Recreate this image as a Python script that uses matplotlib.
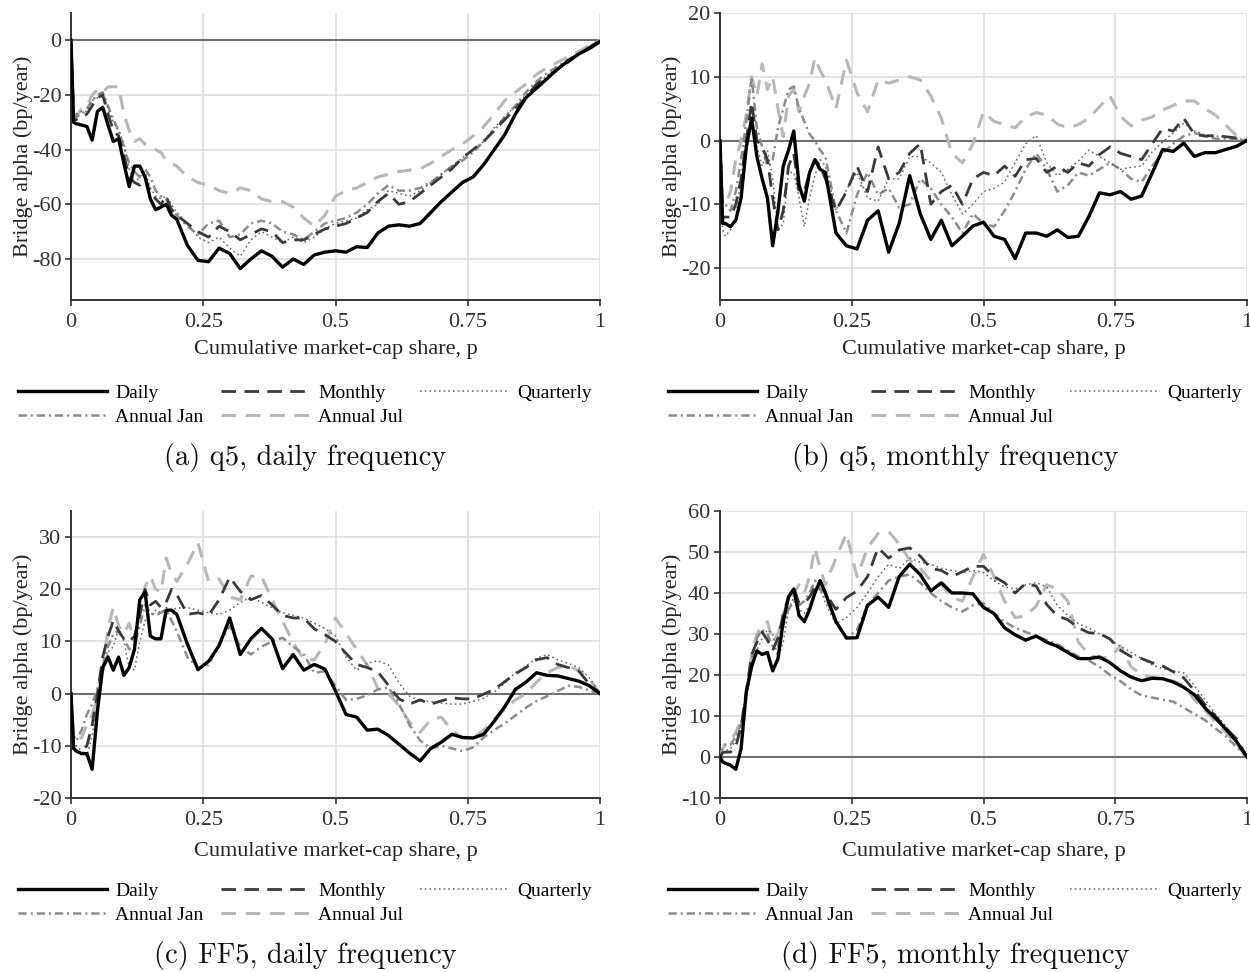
import matplotlib
matplotlib.use('Agg')
import matplotlib.pyplot as plt

plt.rcParams['font.family'] = ['Liberation Serif', 'DejaVu Serif']
plt.rcParams['axes.unicode_minus'] = False
plt.rcParams['lines.scale_dashes'] = False

# ---------------- data ----------------
P = [0, 0.005, 0.01, 0.02, 0.03, 0.04, 0.05, 0.06, 0.07, 0.08, 0.09, 0.10,
     0.11, 0.12, 0.13, 0.14, 0.15, 0.16, 0.17, 0.18, 0.19, 0.20,
     0.22, 0.24, 0.26, 0.28, 0.30, 0.32, 0.34, 0.36, 0.38, 0.40,
     0.42, 0.44, 0.46, 0.48, 0.50, 0.52, 0.54, 0.56, 0.58, 0.60,
     0.62, 0.64, 0.66, 0.68, 0.70, 0.72, 0.74, 0.76, 0.78, 0.80,
     0.82, 0.84, 0.86, 0.88, 0.90, 0.92, 0.94, 0.96, 0.98, 1.00]

SERIES = ['Daily', 'Monthly', 'Quarterly', 'Annual Jan', 'Annual Jul']

# (a) q5, daily frequency
A_DAILY = [0, -30, -30.5, -31, -31.5, -36.5, -26, -24.5, -31, -37, -36, -45, -53.5, -46, -46, -50, -58, -62, -61, -60, -64, -65.5,
           -75, -80.5, -81, -76, -78, -83.5, -80, -77, -79, -83, -80, -82, -78.5, -77.5, -77, -77.5, -75.5, -75.8, -70.5, -68,
           -67.5, -68, -67, -63, -59, -55.5, -52, -50, -45.5, -40, -34.5, -27, -21, -17.5, -14, -10.5, -7.5, -5, -3, -0.5]
A_MONTHLY = [0, -29, -29, -28, -27, -24, -21, -20, -27, -33, -35, -42, -50, -52, -53, -50, -56, -58, -60, -57, -62, -64,
             -67, -70, -72, -68, -70, -73, -71, -69, -70, -74, -73, -73, -71, -69, -68, -67, -65, -63, -59, -56,
             -60, -59, -56, -53, -50, -47, -43, -40, -37, -33, -29, -25, -21, -16, -13.5, -10.5, -8, -5, -2.5, 0]
A_QUARTERLY = [0, -28, -27, -26, -26, -22, -21, -19, -25, -30, -33, -38, -47, -52, -50, -48, -54, -57, -58, -57, -60, -63,
               -67, -72, -74, -72, -76, -79, -73, -70, -72, -74, -72, -74, -72, -69, -67, -66, -65, -62, -60, -55,
               -56, -57, -55, -52, -49, -46, -43, -40, -37, -32, -28, -24, -20, -16, -13, -10, -7.5, -5, -2.5, 0]
A_JAN = [0, -27, -28, -27, -25, -22, -20, -19, -24, -29, -33, -39, -45, -48, -50, -47, -50, -55, -57, -58, -62, -64,
         -68, -71, -67, -66, -72, -71, -67, -66, -67, -70, -71, -73, -70, -67, -66, -65, -63, -60, -56, -53,
         -55, -55, -54, -52, -49, -46, -44, -41, -37, -33, -28, -24, -19, -15, -12, -9.5, -7, -5, -2.5, 0]
A_JUL = [0, -27, -28, -25, -24, -20, -18, -19, -17, -17, -17, -27, -33, -37, -36, -38, -39, -40, -41, -44, -45, -46,
         -50, -52, -53, -55, -56, -54, -55, -58, -59, -59, -61, -65, -68, -64, -57, -55, -54, -52, -50, -49,
         -48, -47.5, -47, -45, -42.5, -40, -38, -35, -31.6, -27, -22, -19, -16, -12.5, -10, -8, -6, -4, -2, 0]

# (b) q5, monthly frequency
B_DAILY = [0, -13, -13, -13.5, -12.5, -9, -1, 3.5, -2.5, -6, -9, -16.5, -11, -4, -1.5, 1.5, -7, -9.5, -5, -3, -4.5, -5,
           -14.5, -16.5, -17, -12.5, -11, -17.5, -13, -5.5, -11.5, -15.5, -12.5, -16.5, -15, -13.4, -12.8, -15, -15.5, -18.5, -14.5, -14.5,
           -15, -14, -15.2, -15, -11.9, -8.2, -8.5, -8, -9.2, -8.7, -5.1, -1.4, -1.7, -0.4, -2.5, -1.9, -1.9, -1.4, -0.9, 0]
B_MONTHLY = [0, -12, -12, -12, -10, -6, 0, 6, 0, -1, -3, -9, -14, -11, -4, -2, -8, -8, -5, -3, -4, -6,
             -11, -8, -4, -8, -1, -6, -5, -2, -0.5, -10, -8, -7, -10, -6, -5, -5.5, -4, -5.6, -3, -2.8,
             -5, -4, -5, -3.5, -4, -2.2, -1, -2, -2.5, -3, -0.5, 1.9, 1.5, 3.5, 1, 0.7, 0.8, 0.6, 0.4, 0]
B_QUARTERLY = [0, -14, -15, -14, -12, -6, 1, 3, -1, -4, -1.5, -6, -14, -13, -5, -5, -9, -13.5, -9, -5.5, -3, -4,
               -11, -7.7, -5, -9, -9.5, -6, -6, -2.5, -2.5, -3.5, -5, -8.5, -11.5, -10, -8, -7.5, -6.5, -3.5, -0.5, 0.8,
               -3.5, -5.5, -4.5, -3.2, -1.5, -2.5, -3.5, -4.5, -4.2, -4, -1.8, -0.2, 1.2, 2.7, 1.5, 0.9, 0.7, 0.6, 0.4, 0]
B_JAN = [0, -10, -10, -11, -8, -3, 3, 10, 2, -1, -4, -3, 2, 5, 8, 8.5, 5, 3, 1, 0, -1.5, -2.5,
         -11, -14.5, -8.5, -5, -8.5, -7.5, -10.5, -10, -6, -7.5, -10, -12, -14.5, -11.5, -13, -13.5, -11, -8, -4.5, -2,
         -4.5, -8, -7, -5, -5.5, -4.5, -3.5, -4.5, -6, -6.5, -4, -2, -0.5, 0.7, 1.2, 0.7, 0.3, 0.2, 0.2, 0]
B_JUL = [0, -10, -10, -8, -3, 0, 4, 10, 7, 12, 8, 10, 5, 0.6, 7, 8, 4.5, 7, 9, 13, 11, 9.5,
         5, 12.6, 7.5, 4.5, 9.5, 9, 9.5, 10, 9.5, 7, 3.5, -2, -3.5, -0.5, 4.5, 3, 2.5, 2, 3.7, 4.4,
         4, 2.6, 2, 2.5, 3.5, 5.3, 7, 3.8, 2.3, 3.2, 3.7, 4.8, 5.5, 6.2, 6.2, 5, 4, 2.4, 0.8, 0]

# (c) FF5, daily frequency
C_DAILY = [0, -10.5, -11, -11.5, -11.5, -14.5, -3.3, 5, 7, 4.5, 7, 3.5, 5, 8.5, 18, 19.5, 11, 10.5, 10.5, 16, 16, 15.2,
           9.5, 4.6, 6.2, 9.2, 14.5, 7.5, 10.5, 12.5, 10.5, 4.8, 7.5, 4.5, 5.6, 4.7, 0.5, -4, -4.5, -7, -6.8, -8,
           -9.7, -11.4, -12.9, -10.5, -9.3, -7.8, -8.4, -8.5, -7.8, -5.3, -2.5, 0.8, 2.2, 4, 3.5, 3.4, 2.9, 2.4, 1.5, 0]
C_MONTHLY = [0, -10.5, -11, -11, -10, -6, 0, 7, 11, 14, 12, 10.5, 10, 11, 15, 20, 17, 17.7, 16.5, 17.5, 20, 19,
             15.2, 15.5, 15, 18, 22.3, 19.6, 18, 18.8, 17, 15, 14.5, 14.5, 12.4, 11.3, 10, 7.7, 5.6, 5, 4.2, 1.6,
             -1, -2, -1.2, -2, -1.4, -0.8, -1, -1, -0.1, 0.8, 2.3, 3.8, 5, 6.5, 6.9, 5.6, 5, 4.3, 1.8, 0]
C_QUARTERLY = [0, -9, -10, -11, -12, -8, -2, 4, 8, 9, 12.5, 10, 5, 4.5, 10, 14, 15, 16, 15.5, 16.5, 16, 16.4,
               16.5, 16, 15.5, 15.2, 16, 17.5, 18.5, 17.5, 16.5, 15.5, 15, 14.5, 13.5, 12.5, 11, 7, 4.5, 5.8, 6.3, 5.5,
               2, -0.5, -1.4, -1.5, -1.8, -2, -2, -1.5, -0.9, 0.3, 2, 4, 5.3, 6.8, 7.5, 6.5, 5.8, 5, 3, 0]
C_JAN = [0, -8, -9, -7, -4, -2, 1, 5, 9, 11.5, 12, 10.5, 8.5, 9, 13, 17, 15.5, 15, 15.5, 16, 14, 12,
         7, 5, 5.5, 9.5, 13, 9, 7.5, 9, 10, 10.7, 9, 7.5, 4, 4.3, 1.5, -1.2, -1, -0.3, 0.8, 1.2,
         -2, -6, -9, -10.5, -10, -10.5, -11, -10.3, -8.4, -7, -5.7, -4.2, -2.7, -1.4, -0.5, 0.5, 1.5, 1.3, 0.6, 0]
C_JUL = [0, -8, -8.5, -8.5, -6, -4, -1, 4, 12.6, 16.5, 13, 11.5, 13.5, 10, 16, 20.5, 22.5, 20, 19.5, 26, 23, 21.5,
         24.8, 28.9, 21.5, 22, 18.5, 18, 22.5, 22.5, 18, 13.9, 9.8, 6.5, 6.5, 9.5, 14.5, 11.5, 8.5, 5.5, 1, 0,
         -2.3, -5.5, -7.4, -5, -4.5, -7, -8.5, -8.5, -7, -4.8, -3, -1.2, 0, 2.2, 4, 5, 5.3, 4.4, 2.8, 0]

# (d) FF5, monthly frequency
D_DAILY = [0, -1.2, -1.5, -2, -3, 2, 16, 22, 25.9, 25, 25.5, 21, 24, 33, 39, 41, 34.5, 33, 36, 40, 43, 40,
           33, 29, 29.1, 37, 39, 36.5, 44, 47, 44.5, 40.5, 42.5, 40, 40, 39.8, 36.5, 35, 31.5, 29.8, 28.5, 29.5,
           28, 27, 25.5, 24, 24, 24.4, 23, 21, 19.5, 18.6, 19.2, 19.1, 18.3, 17, 15.2, 12, 9.5, 6.8, 3.8, 0]
D_MONTHLY = [0, 1, 1.2, 1.2, 2.5, 7.5, 16, 25, 28, 30.5, 28.5, 26, 29, 34.8, 39, 41.3, 37.5, 37.5, 39, 41.5, 43, 40,
             36, 38.9, 40.5, 44, 51, 48.5, 50.5, 51, 49, 46, 45.5, 44, 45.2, 46.5, 46.5, 44, 42.5, 40, 42.3, 41.7,
             37.2, 34.4, 33.5, 31.5, 30.3, 30.1, 28.8, 26, 24.5, 24, 23, 22.2, 20.8, 19.3, 16.2, 12.8, 10, 7, 4.5, 0]
D_QUARTERLY = [0, 1, 1.5, 2, 4, 8, 14, 22, 26, 29, 31, 30, 24, 28, 36, 39, 36, 35, 37, 40, 41, 37.5,
               32.5, 34, 36.5, 40, 44, 47, 46, 48.5, 47.5, 47, 46, 45.5, 45, 45.5, 45, 43, 41.5, 41, 42, 42.5,
               41.5, 37, 34.5, 32.5, 31.5, 30, 28.5, 27, 25.5, 24, 22.5, 21.5, 21, 20.5, 17.5, 14, 10.5, 7.5, 4, 0]
D_JAN = [0, 2, 3, 3, 5, 8, 15, 24, 29, 31, 30, 27, 27, 32, 36, 38, 37, 38, 40, 43, 41, 39,
         33, 29, 31, 37, 40, 43, 44, 44.5, 42.5, 40, 38, 36.5, 35.5, 37, 37.5, 35, 33, 31.5, 30.5, 29.5,
         28.5, 27.5, 26, 24.5, 23.5, 22, 20, 18.5, 16.5, 15, 14.5, 14, 13.5, 12, 10.5, 9, 7, 5, 2.5, 0]
D_JUL = [0, 2, 3, 4, 6, 9, 14, 25, 30, 32, 33, 28, 30, 35, 38, 40, 42, 40, 44, 51, 46, 42,
         48.5, 54.5, 44, 51, 54.5, 55, 52, 48, 46, 43, 42, 39, 38, 44, 49.4, 44, 38, 34, 34.4, 36.8,
         42, 41, 38, 28, 25, 24, 24.5, 27, 22, 20, 19.5, 19, 18.5, 17.5, 14, 11.5, 8.5, 6, 3, 0]

PANELS = [
    [A_DAILY, A_MONTHLY, A_QUARTERLY, A_JAN, A_JUL],
    [B_DAILY, B_MONTHLY, B_QUARTERLY, B_JAN, B_JUL],
    [C_DAILY, C_MONTHLY, C_QUARTERLY, C_JAN, C_JUL],
    [D_DAILY, D_MONTHLY, D_QUARTERLY, D_JAN, D_JUL],
]
CAPTIONS = ['(a) q5, daily frequency', '(b) q5, monthly frequency',
            '(c) FF5, daily frequency', '(d) FF5, monthly frequency']
YLIMS = [(-95, 10), (-25, 20), (-20, 35), (-10, 60)]
YTICKS = [[0, -20, -40, -60, -80], [20, 10, 0, -10, -20],
          [30, 20, 10, 0, -10, -20], [60, 50, 40, 30, 20, 10, 0, -10]]
XTICKS = [0, 0.25, 0.5, 0.75, 1]
XTICKLABELS = ['0', '0.25', '0.5', '0.75', '1']

STYLES = {
    'Daily':      dict(color='#000000', lw=2.4, ls='-'),
    'Monthly':    dict(color='#3a3a3a', lw=2.0, ls=(0, (10.5, 6))),
    'Quarterly':  dict(color='#666666', lw=1.1, ls=(0, (1.2, 2.2))),
    'Annual Jan': dict(color='#8c8c8c', lw=1.8, ls=(0, (6, 2.8, 1.5, 2.8))),
    'Annual Jul': dict(color='#b8b8b8', lw=2.2, ls=(0, (10.5, 7))),
}

W, H = 1250, 972
fig = plt.figure(figsize=(W / 100, H / 100), dpi=100)

# layout in pixels: (left, top, right, bottom)
BOXES = [(71, 13, 600, 300), (720, 13, 1247, 300),
         (71, 511, 600, 798), (720, 511, 1247, 798)]
SUB_CENTER = [305, 955, 305, 955]
LEG_Y = [405, 405, 903, 903]
CAP_Y = [457, 457, 955, 955]

for i, (l, t, r, b) in enumerate(BOXES):
    ax = fig.add_axes([l / W, 1 - b / H, (r - l) / W, (b - t) / H])
    ax.set_xlim(0, 1)
    ax.set_ylim(*YLIMS[i])
    ax.set_xticks(XTICKS)
    ax.set_xticklabels(XTICKLABELS)
    ax.set_yticks(YTICKS[i])
    ax.set_yticklabels([str(v) for v in YTICKS[i]])
    ax.grid(True, color='#dedede', lw=1.2)
    ax.set_axisbelow(True)
    for s in ['top', 'right']:
        ax.spines[s].set_visible(False)
    for s in ['left', 'bottom']:
        ax.spines[s].set_color('#333333')
        ax.spines[s].set_linewidth(1.4)
    ax.tick_params(direction='out', length=4, width=1.2, colors='#333333',
                   labelsize=16)
    ax.tick_params(axis='x', pad=5)
    ax.tick_params(axis='y', pad=3)
    ax.axhline(0, color='#707070', lw=1.5, zorder=1.5)

    handles = {}
    data = PANELS[i]
    for k in reversed(range(len(SERIES))):
        name = SERIES[k]
        st = STYLES[name]
        ln, = ax.plot(P, data[k], color=st['color'], lw=st['lw'],
                      linestyle=st['ls'], zorder=2 + (5 - k), label=name,
                      solid_joinstyle='round')
        handles[name] = ln

    ax.set_xlabel('Cumulative market-cap share, p', fontsize=16,
                  color='#222222', labelpad=6 if i < 2 else 9)
    ax.set_ylabel('Bridge alpha (bp/year)', fontsize=16,
                  color='#222222', labelpad=-1)

    order = ['Daily', 'Annual Jan', 'Monthly', 'Annual Jul', 'Quarterly']
    fig.legend([handles[n] for n in order], order, loc='center',
               bbox_to_anchor=(SUB_CENTER[i] / W, 1 - LEG_Y[i] / H),
               ncol=3, frameon=False, fontsize=14, handlelength=4.6,
               handletextpad=0.4, columnspacing=0.9, labelspacing=0.3,
               borderpad=0, borderaxespad=0)

    fig.text(SUB_CENTER[i] / W, 1 - CAP_Y[i] / H, CAPTIONS[i],
             ha='center', va='center', fontsize=20.5, family='cmr10',
             color='#111111')

fig.savefig('out.png', dpi=100)
